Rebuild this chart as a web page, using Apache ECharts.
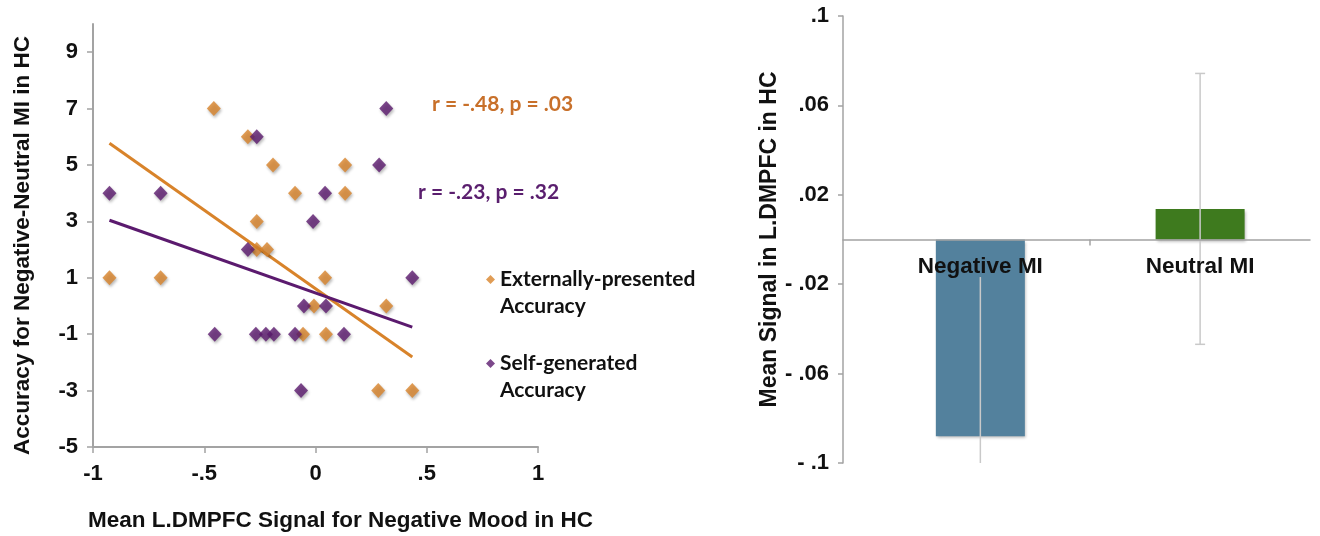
<!DOCTYPE html>
<html>
<head>
<meta charset="utf-8">
<script src="https://cdn.jsdelivr.net/npm/echarts@6/dist/echarts.min.js"></script>
<style>
  html, body { margin: 0; padding: 0; background: #fff; }
  #chart { width: 1320px; height: 536px; }
</style>
</head>
<body>
<div id="chart"></div>
<script>
// Scatter: mean L.DMPFC signal (x) vs accuracy difference (y), per participant
const externalPoints = [
  [-0.926, 1], [-0.696, 1], [-0.457, 7], [-0.304, 6], [-0.191, 5], [-0.092, 4],
  [-0.264, 3], [-0.264, 2], [-0.218, 2], [0.133, 5], [0.133, 4], [0.043, 1],
  [-0.007, 0], [0.318, 0], [-0.056, -1], [0.047, -1], [0.282, -3], [0.435, -3]
];
const selfPoints = [
  [-0.926, 4], [-0.696, 4], [-0.264, 6], [-0.304, 2], [-0.011, 3], [0.043, 4],
  [0.318, 7], [0.286, 5], [0.435, 1], [-0.052, 0], [0.047, 0], [-0.453, -1],
  [-0.268, -1], [-0.223, -1], [-0.187, -1], [-0.092, -1], [0.128, -1], [-0.065, -3]
];
// Fit line end points
const externalFit = [[-0.926, 5.77], [0.435, -1.81]];
const selfFit = [[-0.926, 3.04], [0.435, -0.75]];

const scatterXTicks = [-1, -0.5, 0, 0.5, 1];
const scatterXLabels = ['-1', '-.5', '0', '.5', '1'];
const scatterYTicks = [-5, -3, -1, 1, 3, 5, 7, 9];

// Bar chart: mean signal per mood induction, with error
const barCategories = ['Negative MI', 'Neutral MI'];
const barMeans = [-0.088, 0.0137];
const barErrors = [0.0712, 0.0606];
const barYTicks = [-0.1, -0.06, -0.02, 0.02, 0.06, 0.1];
const barYLabels = ['- .1', '- .06', '- .02', '.02', '.06', '.1'];

const ORANGE = '#d8832a';
const PURPLE = '#5b1a6e';
const BAR_COLORS = ['#53819d', '#3e7a1e'];
const ERROR_CAP = [0, 5];
const AXIS_GREY = '#a3a3a3';
const ERR_GREY = '#c9c9c9';
const BOLD_SANS = { fontFamily: 'Liberation Sans, Arial, sans-serif', fontWeight: 'bold', color: '#111' };
const CALLOUT_FONT = 'bold 21px Lato, sans-serif';

function lookup(ticks, labels, v) {
  for (let i = 0; i < ticks.length; i++) {
    if (Math.abs(ticks[i] - v) < 1e-9) return labels[i];
  }
  return '';
}

const markerShadow = {
  shadowBlur: 3, shadowOffsetX: 1, shadowOffsetY: 2, shadowColor: 'rgba(0,0,0,0.35)'
};

const chart = echarts.init(document.getElementById('chart'));

chart.setOption({
  backgroundColor: '#ffffff',
  animation: false,
  grid: [
    { left: 93, right: 782, top: 24, bottom: 89, containLabel: false, outerBoundsMode: 'none' },
    { left: 843, right: 10, top: 16, bottom: 73, containLabel: false, outerBoundsMode: 'none' }
  ],
  xAxis: [
    {
      gridIndex: 0, type: 'value', min: -1, max: 1, interval: 0.5,
      axisLine: { onZero: false, lineStyle: { color: AXIS_GREY, width: 2 } },
      axisTick: { show: true, length: 6, lineStyle: { color: AXIS_GREY, width: 1.5 } },
      axisLabel: Object.assign({ fontSize: 22, margin: 16,
        formatter: v => lookup(scatterXTicks, scatterXLabels, v) }, BOLD_SANS),
      splitLine: { show: false },
      name: 'Mean L.DMPFC Signal for Negative Mood in HC',
      nameLocation: 'middle', nameGap: 62,
      nameTextStyle: Object.assign({ fontSize: 22.5, padding: [0, 0, 0, 50] }, BOLD_SANS)
    },
    {
      // value axis at y = 0; moved up from the grid bottom so labels sit under the zero line
      gridIndex: 1, type: 'value', min: -0.625, max: 1.5, position: 'bottom', offset: -223.5,
      z: 10,
      axisLine: { onZero: false, lineStyle: { color: AXIS_GREY, width: 1.5 } },
      axisTick: { show: true, length: 6, customValues: barCategories.slice(1).map((_, i) => i + 0.5),
        lineStyle: { color: AXIS_GREY, width: 1.5 } },
      axisLabel: Object.assign({ fontSize: 22.5, margin: 16,
        customValues: barCategories.map((_, i) => i),
        formatter: v => barCategories[Math.round(v)] }, BOLD_SANS),
      splitLine: { show: false }
    }
  ],
  yAxis: [
    {
      gridIndex: 0, type: 'value', min: -5, max: 10,
      axisLine: { show: true, onZero: false, lineStyle: { color: AXIS_GREY, width: 2 } },
      axisTick: { show: true, length: 6, customValues: scatterYTicks,
        lineStyle: { color: AXIS_GREY, width: 1.5 } },
      axisLabel: Object.assign({ fontSize: 22, margin: 15, customValues: scatterYTicks,
        formatter: v => String(v) }, BOLD_SANS),
      splitLine: { show: false },
      name: 'Accuracy for Negative-Neutral MI in HC',
      nameLocation: 'middle', nameGap: 59,
      nameTextStyle: Object.assign({ fontSize: 22.5, padding: [0, 20, 0, 0] }, BOLD_SANS)
    },
    {
      gridIndex: 1, type: 'value', min: -0.1, max: 0.1, interval: 0.04,
      axisLine: { show: true, onZero: false, lineStyle: { color: AXIS_GREY, width: 1.5 } },
      axisTick: { show: true, length: 5, lineStyle: { color: AXIS_GREY, width: 1.5 } },
      axisLabel: Object.assign({ fontSize: 22, margin: 14,
        formatter: v => lookup(barYTicks, barYLabels, v) }, BOLD_SANS),
      splitLine: { show: false },
      name: 'Mean Signal in L.DMPFC in HC',
      nameLocation: 'middle', nameGap: 61,
      nameTextStyle: Object.assign({ fontSize: 23 }, BOLD_SANS)
    }
  ],
  legend: {
    orient: 'vertical', left: 486, top: 239, padding: 0, itemGap: 3,
    itemWidth: 9, itemHeight: 9, icon: 'diamond',
    selectedMode: false,
    data: ['Externally-presented Accuracy', 'Self-generated Accuracy'],
    // leading blank line keeps the marker level with the first text line
    formatter: name => '\n' + name.replace(' Accuracy', '\nAccuracy'),
    textStyle: { color: '#111', lineHeight: 27, fontFamily: 'Lato, sans-serif', fontWeight: 'bold', fontSize: 21 }
  },
  graphic: [
    { type: 'text', left: 432, top: 94,
      style: { text: 'r = -.48, p = .03', fill: '#c8702a', font: CALLOUT_FONT } },
    { type: 'text', left: 418, top: 182,
      style: { text: 'r = -.23, p = .32', fill: '#5a1e6e', font: CALLOUT_FONT } }
  ],
  series: [
    {
      name: 'externalFit', type: 'line', xAxisIndex: 0, yAxisIndex: 0,
      data: externalFit, showSymbol: false, symbol: 'none', silent: true,
      lineStyle: { color: ORANGE, width: 3 }, z: 2
    },
    {
      name: 'selfFit', type: 'line', xAxisIndex: 0, yAxisIndex: 0,
      data: selfFit, showSymbol: false, symbol: 'none', silent: true,
      lineStyle: { color: PURPLE, width: 3 }, z: 2
    },
    {
      name: 'Externally-presented Accuracy', type: 'scatter', xAxisIndex: 0, yAxisIndex: 0,
      data: externalPoints, symbol: 'diamond', symbolSize: [14, 15],
      itemStyle: Object.assign({ color: ORANGE }, markerShadow), z: 3
    },
    {
      name: 'Self-generated Accuracy', type: 'scatter', xAxisIndex: 0, yAxisIndex: 0,
      data: selfPoints, symbol: 'diamond', symbolSize: [14, 15],
      itemStyle: Object.assign({ color: PURPLE }, markerShadow), z: 3
    },
    {
      name: 'means', type: 'bar', xAxisIndex: 1, yAxisIndex: 1, barWidth: 89,
      data: barMeans.map((m, i) => ({
        value: [i, m],
        itemStyle: { color: BAR_COLORS[i] }
      })),
      itemStyle: { shadowBlur: 3, shadowOffsetX: 1, shadowOffsetY: 2, shadowColor: 'rgba(0,0,0,0.3)' },
      z: 2
    },
    {
      name: 'errors', type: 'custom', xAxisIndex: 1, yAxisIndex: 1, z: 4,
      data: barMeans.map((m, i) => [i, m - barErrors[i], m + barErrors[i]]),
      renderItem: function (params, api) {
        const x = api.value(0);
        const lo = api.coord([x, api.value(1)]);
        const hi = api.coord([x, api.value(2)]);
        const cs = params.coordSys;
        const top = Math.max(cs.y, hi[1]);
        const bottom = Math.min(cs.y + cs.height, lo[1]);
        const cap = ERROR_CAP[params.dataIndex];
        const style = { stroke: ERR_GREY, lineWidth: 1.5 };
        const children = [
          { type: 'line', shape: { x1: lo[0], y1: top, x2: lo[0], y2: bottom }, style: style }
        ];
        if (cap > 0 && hi[1] >= cs.y) children.push({ type: 'line',
          shape: { x1: hi[0] - cap, y1: hi[1], x2: hi[0] + cap, y2: hi[1] }, style: style });
        if (cap > 0 && lo[1] <= cs.y + cs.height) children.push({ type: 'line',
          shape: { x1: lo[0] - cap, y1: lo[1], x2: lo[0] + cap, y2: lo[1] }, style: style });
        return { type: 'group', children: children };
      }
    }
  ]
});
</script>
</body>
</html>
